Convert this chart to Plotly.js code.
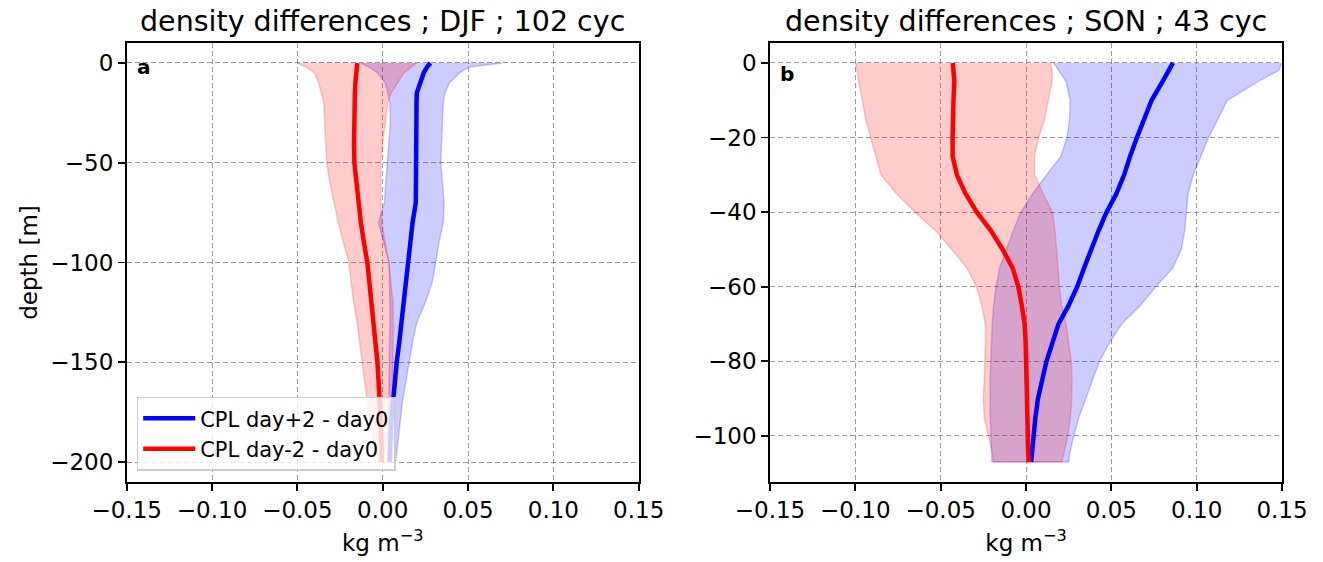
<!DOCTYPE html>
<html>
<head>
<meta charset="utf-8">
<script src="https://cdn.plot.ly/plotly-3.0.1.min.js"></script>
<style>html,body{margin:0;padding:0;background:#fff;}#chart{width:1323px;height:562px;}</style>
</head>
<body>
<div id="chart"></div>
<script>
// ---------- Panel a : DJF, 102 cycles ----------
const depthA = [0,-2,-5,-10,-15,-20,-30,-40,-50,-60,-70,-80,-90,-100,-110,-120,-130,-140,-150,-160,-170,-180,-190,-200];
const plusMeanA = [0.028,0.026,0.024,0.022,0.020,0.0198,0.0196,0.0196,0.0195,0.0195,0.0194,0.0175,0.0163,0.015,0.0138,0.0125,0.0112,0.0097,0.0082,0.007,0.0057,0.005,0.0045,0.004];
const plusLowA  = [-0.0129,-0.008,-0.003,0.0015,0.003,0.0042,0.0045,0.0035,0.0027,0.0018,0.001,-0.0025,0.0006,0.0037,0.004,0.0042,0.0042,0.004,0.004,0.0038,0.0036,0.0033,0.003,0.0027];
const plusHighA = [0.070,0.0506,0.045,0.039,0.0365,0.0355,0.035,0.0345,0.034,0.035,0.036,0.0355,0.033,0.031,0.029,0.025,0.020,0.0175,0.0155,0.0135,0.0115,0.010,0.0088,0.0076];
const minusMeanA = [-0.0149,-0.0152,-0.0158,-0.016,-0.0163,-0.0165,-0.0167,-0.0168,-0.0166,-0.0155,-0.0142,-0.0128,-0.011,-0.009,-0.0078,-0.0065,-0.0053,-0.0042,-0.0031,-0.0024,-0.0016,-0.0012,-0.0008,-0.0006];
const minusLowA  = [-0.050,-0.045,-0.040,-0.0375,-0.036,-0.0345,-0.034,-0.0335,-0.0328,-0.031,-0.0285,-0.026,-0.023,-0.0198,-0.0185,-0.017,-0.015,-0.0135,-0.012,-0.0107,-0.0094,-0.0075,-0.005,-0.0023];
const minusHighA = [0.020,0.017,0.0125,0.009,0.005,0.003,0.0015,0.0,-0.0012,-0.0012,-0.0012,-0.0005,0.0015,0.0037,0.005,0.006,0.0063,0.0062,0.006,0.0058,0.0057,0.004,0.002,0.0006];

// ---------- Panel b : SON, 43 cycles ----------
const depthB = [0,-2,-5,-10,-15,-20,-25,-30,-35,-40,-45,-50,-55,-60,-65,-70,-75,-80,-85,-90,-95,-100,-105,-107];
const plusMeanB = [0.0861,0.0834,0.080,0.0736,0.069,0.065,0.061,0.0575,0.053,0.0472,0.0425,0.038,0.034,0.030,0.025,0.019,0.0155,0.012,0.0095,0.007,0.0055,0.0045,0.0033,0.003];
const plusLowB  = [0.0162,0.019,0.0235,0.0258,0.0255,0.024,0.0205,0.012,0.004,-0.003,-0.0075,-0.0115,-0.0155,-0.0175,-0.019,-0.0198,-0.0203,-0.0205,-0.021,-0.021,-0.021,-0.0205,-0.020,-0.020];
const plusHighB = [0.150,0.148,0.136,0.118,0.1125,0.107,0.1025,0.098,0.095,0.094,0.093,0.091,0.086,0.076,0.067,0.056,0.049,0.043,0.039,0.035,0.031,0.028,0.0255,0.025];
const minusMeanB = [-0.0429,-0.0425,-0.042,-0.0425,-0.043,-0.043,-0.043,-0.0405,-0.0355,-0.0288,-0.0205,-0.0137,-0.0078,-0.0045,-0.0025,-0.0008,-0.0002,0.0,0.0,0.0003,0.0005,0.0008,0.0013,0.0016];
const minusLowB  = [-0.0998,-0.099,-0.098,-0.096,-0.094,-0.091,-0.088,-0.085,-0.076,-0.065,-0.053,-0.0434,-0.0346,-0.029,-0.026,-0.0238,-0.0238,-0.024,-0.0245,-0.025,-0.0245,-0.022,-0.0195,-0.019];
const minusHighB = [0.0143,0.0153,0.0153,0.013,0.011,0.0074,0.005,0.005,0.010,0.0155,0.017,0.0178,0.0188,0.0195,0.021,0.0235,0.025,0.0265,0.027,0.0268,0.026,0.0245,0.022,0.021];

const titleA = "density differences ; DJF ; 102 cyc";
const titleB = "density differences ; SON ; 43 cyc";
const labelPlus = "CPL day+2 - day0";
const labelMinus = "CPL day-2 - day0";
const xTitle = "kg m<sup>\u22123</sup>";
const yTitle = "depth [m]";

const FONT = "DejaVu Sans, Liberation Sans, sans-serif";
const BLUE = "#0000ff", RED = "#ff0000";
const BLUE_F = "rgba(0,0,255,0.2)", RED_F = "rgba(255,0,0,0.2)";

function band(low, high, depth, fill, xa, ya) {
  return {
    type: "scatter", mode: "lines",
    x: low.concat(high.slice().reverse()),
    y: depth.concat(depth.slice().reverse()),
    fill: "toself", fillcolor: fill,
    line: {color: fill, width: 1.5},
    xaxis: xa, yaxis: ya, showlegend: false, hoverinfo: "skip"
  };
}
function line(x, depth, color, name, xa, ya, showLeg) {
  return {
    type: "scatter", mode: "lines", x: x, y: depth, name: name,
    line: {color: color, width: 4.5},
    xaxis: xa, yaxis: ya, showlegend: showLeg
  };
}

const data = [
  band(plusLowA, plusHighA, depthA, BLUE_F, "x", "y"),
  band(minusLowA, minusHighA, depthA, RED_F, "x", "y"),
  band(plusLowB, plusHighB, depthB, BLUE_F, "x2", "y2"),
  band(minusLowB, minusHighB, depthB, RED_F, "x2", "y2"),
  line(plusMeanA, depthA, BLUE, labelPlus, "x", "y", true),
  line(minusMeanA, depthA, RED, labelMinus, "x", "y", true),
  line(plusMeanB, depthB, BLUE, labelPlus, "x2", "y2", false),
  line(minusMeanB, depthB, RED, labelMinus, "x2", "y2", false)
];

const W = 1323, H = 562, T = 43, B = 80, PH = H - T - B;
function py(p) { return (H - B - p) / PH; }

const gridCommon = {
  showgrid: true, gridcolor: "rgba(120,120,120,0.75)", gridwidth: 1, griddash: "5px,3px",
  zeroline: false, showline: true, linecolor: "#000", linewidth: 1.8, mirror: true,
  ticks: "outside", ticklen: 7, tickwidth: 1.8, tickcolor: "#000",
  tickfont: {family: FONT, size: 23, color: "#000"}
};
const xCommon = Object.assign({}, gridCommon, {
  range: [-0.15, 0.15], tick0: -0.15, dtick: 0.05, tickformat: ".2f",
  title: {text: xTitle, font: {family: FONT, size: 23, color: "#000"}, standoff: 12}
});

const layout = {
  width: W, height: H,
  margin: {l: 0, r: 0, t: T, b: B, pad: 0},
  paper_bgcolor: "#fff", plot_bgcolor: "#fff",
  font: {family: FONT, color: "#000"},
  showlegend: true,
  xaxis: Object.assign({}, xCommon, {domain: [126.7 / W, 638.7 / W], anchor: "y"}),
  yaxis: Object.assign({}, gridCommon, {
    domain: [0, 1], anchor: "x", range: [-210, 10], dtick: 50, tick0: 0,
    title: {text: yTitle, font: {family: FONT, size: 23, color: "#000"}, standoff: 6}
  }),
  xaxis2: Object.assign({}, xCommon, {domain: [770 / W, 1282 / W], anchor: "y2"}),
  yaxis2: Object.assign({}, gridCommon, {
    domain: [0, 1], anchor: "x2", range: [-112.35, 5.35], dtick: 20, tick0: 0
  }),
  legend: {
    x: 136.7 / W, y: py(470.7), xanchor: "left", yanchor: "bottom",
    bgcolor: "rgba(255,255,255,0.8)", bordercolor: "#cccccc", borderwidth: 1.5,
    font: {family: FONT, size: 21, color: "#000"}, traceorder: "normal",
    tracegroupgap: 0, itemwidth: 52
  },
  annotations: [
    {text: titleA, xref: "paper", yref: "paper", x: 382.7 / W, y: py(22), xanchor: "center", yanchor: "middle",
     showarrow: false, font: {family: FONT, size: 28.5, color: "#000"}},
    {text: titleB, xref: "paper", yref: "paper", x: 1026 / W, y: py(22), xanchor: "center", yanchor: "middle",
     showarrow: false, font: {family: FONT, size: 28.5, color: "#000"}},
    {text: "<b>a</b>", xref: "paper", yref: "paper", x: 135 / W, y: py(67), xanchor: "left", yanchor: "middle",
     showarrow: false, font: {family: FONT, size: 20, color: "#000"}},
    {text: "<b>b</b>", xref: "paper", yref: "paper", x: 778 / W, y: py(74), xanchor: "left", yanchor: "middle",
     showarrow: false, font: {family: FONT, size: 20, color: "#000"}}
  ]
};

Plotly.newPlot("chart", data, layout, {displayModeBar: false, staticPlot: true});
</script>
</body>
</html>
